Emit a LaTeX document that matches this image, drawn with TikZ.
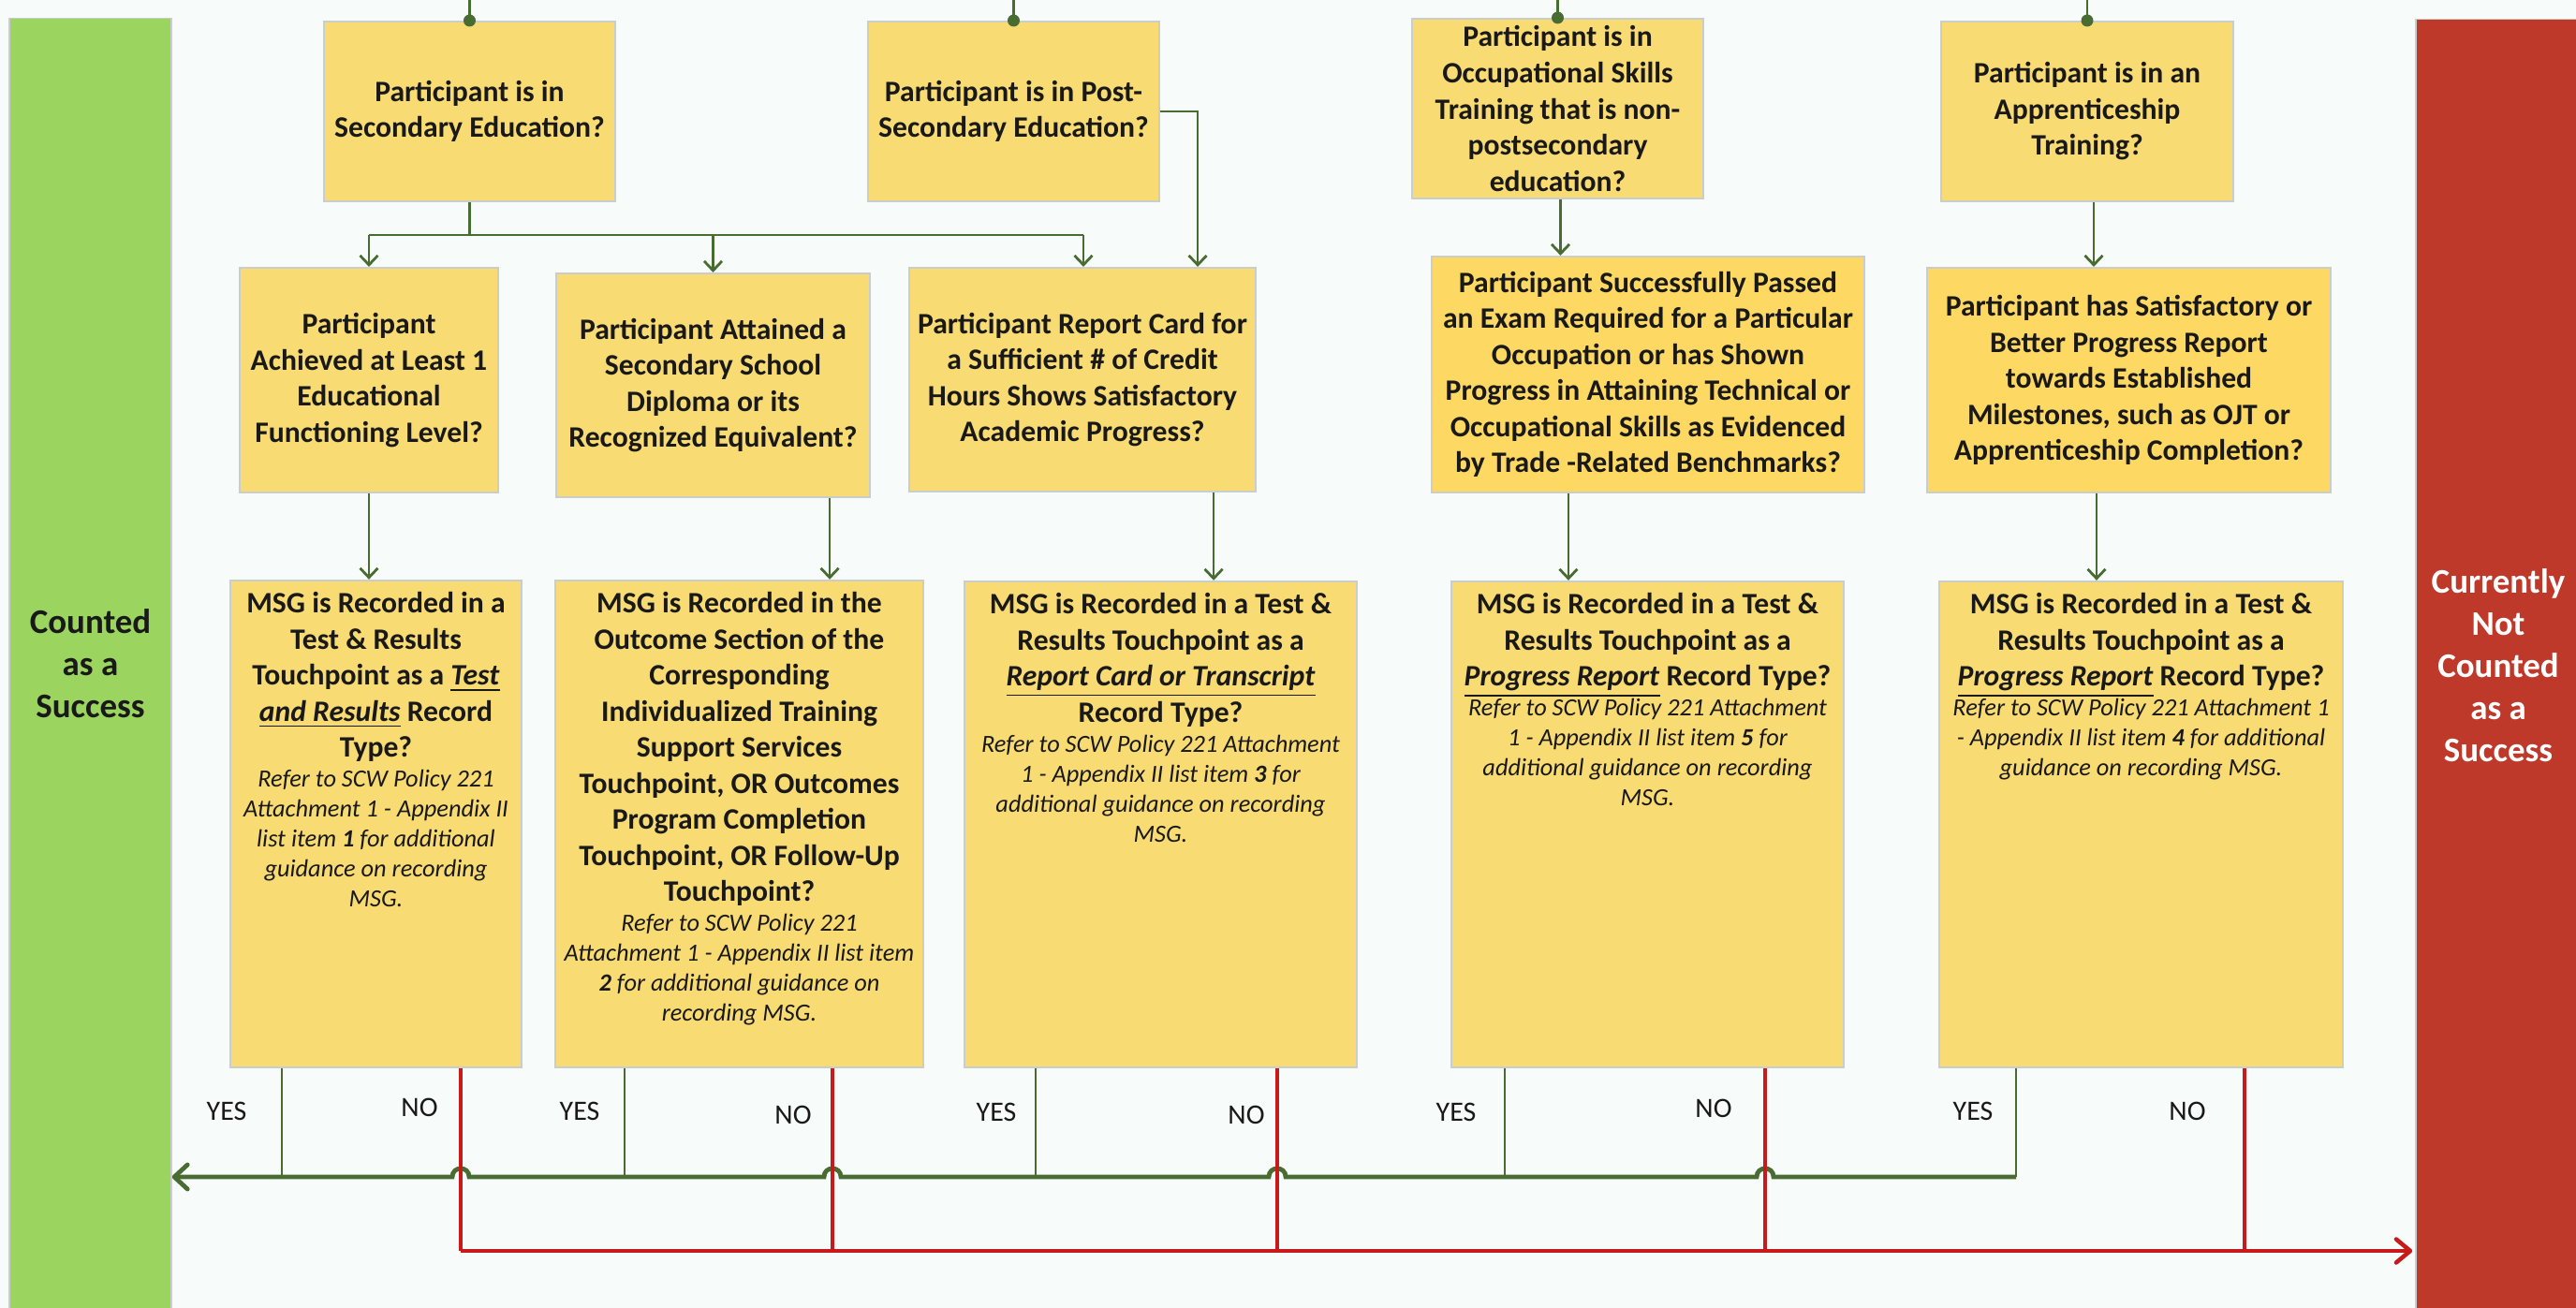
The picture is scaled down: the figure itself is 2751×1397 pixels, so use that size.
\documentclass[tikz,border=0pt]{standalone}
\usepackage{fontspec}
\setmainfont{Carlito}
\usetikzlibrary{arrows.meta}

\definecolor{pagebg}{RGB}{247,252,250}
\definecolor{qfill}{RGB}{248,219,114}
\definecolor{qfilldeep}{RGB}{253,216,98}
\definecolor{qedge}{RGB}{201,205,204}
\definecolor{okfill}{RGB}{155,212,94}
\definecolor{nofill}{RGB}{190,57,42}
\definecolor{yesline}{RGB}{73,108,50}
\definecolor{noline}{RGB}{200,26,26}
\definecolor{ink}{RGB}{25,25,25}

\newcommand{\boxqfont}{\fontsize{9}{10.95}\selectfont\bfseries}
\newcommand{\boxnotefont}{\fontsize{7.5}{9.1}\selectfont\itshape}

\begin{document}
\begin{tikzpicture}[x=0.01cm, y=-0.01cm,
  qbox/.style={draw=qedge, line width=0.02cm, fill=qfill, text=ink, font=\boxqfont, align=center, inner sep=0pt},
  mbox/.style={draw=qedge, line width=0.02cm, fill=qfill, inner sep=0pt},
  mtext/.style={text=ink, align=flush center, inner sep=0pt, anchor=north},
  sidebar/.style={draw=qedge, line width=0.015cm, font=\fontsize{10.5}{12.8}\selectfont\bfseries, align=center, inner sep=0pt},
  gconn/.style={draw=yesline, line width=0.028cm},
  garrow/.style={gconn, -{Straight Barb[length=0.1cm, width=0.19cm]}},
  rconn/.style={draw=noline, line width=0.033cm},
  gmain/.style={draw=yesline, line width=0.048cm},
  rmain/.style={draw=noline, line width=0.045cm},
  ans/.style={text=ink, font=\fontsize{8.5}{10}\selectfont, inner sep=0pt},
]
% canvas
\path[use as bounding box, fill=pagebg] (0,0) rectangle (2751,1397);

% outcome bars
\node[sidebar, fill=okfill, text=ink, minimum width=1.73cm, minimum height=13.77cm] (okbar) at (96.5,708.5) {Counted\\as a\\Success};
\begin{scope}
\clip (0,0) rectangle (2751,1397);
\node[sidebar, fill=nofill, text=white, minimum width=1.76cm, minimum height=13.80cm] (nobar) at (2668,711) {Currently\\Not\\Counted\\as a\\Success};
\end{scope}

% entry questions
\node[qbox, minimum width=3.11cm, minimum height=1.92cm] (s1) at (501.5,119) {Participant is in\\Secondary Education?};
\node[qbox, minimum width=3.11cm, minimum height=1.92cm] (s2) at (1082.5,119) {Participant is in Post-\\Secondary Education?};
\node[qbox, minimum width=3.11cm, minimum height=1.92cm] (s3) at (1663.5,116) {Participant is in\\Occupational Skills\\Training that is non-\\postsecondary\\education?};
\node[qbox, minimum width=3.12cm, minimum height=1.92cm] (s4) at (2229,119) {Participant is in an\\Apprenticeship\\Training?};

% gain questions
\node[qbox, minimum width=2.76cm, minimum height=2.40cm] (a1) at (394,406) {Participant\\Achieved at Least 1\\Educational\\Functioning Level?};
\node[qbox, minimum width=3.35cm, minimum height=2.39cm] (a2) at (761.5,411.5) {Participant Attained a\\Secondary School\\Diploma or its\\Recognized Equivalent?};
\node[qbox, minimum width=3.70cm, minimum height=2.39cm] (a3) at (1156,405.5) {Participant Report Card for\\a Sufficient \# of Credit\\Hours Shows Satisfactory\\Academic Progress?};
\node[qbox, fill=qfilldeep, minimum width=4.62cm, minimum height=2.52cm] (a4) at (1760,400) {Participant Successfully Passed\\an Exam Required for a Particular\\Occupation or has Shown\\Progress in Attaining Technical or\\Occupational Skills as Evidenced\\by Trade -Related Benchmarks?};
\node[qbox, fill=qfilldeep, minimum width=4.31cm, minimum height=2.40cm] (a5) at (2273.5,406) {Participant has Satisfactory or\\Better Progress Report\\towards Established\\Milestones, such as OJT or\\Apprenticeship Completion?};

% recording questions
\node[mbox, minimum width=3.11cm, minimum height=5.20cm] (b1) at (401.5,880) {};
\node[mbox, minimum width=3.93cm, minimum height=5.20cm] (b2) at (789.5,880) {};
\node[mbox, minimum width=4.19cm, minimum height=5.19cm] (b3) at (1239.5,880.5) {};
\node[mbox, minimum width=4.19cm, minimum height=5.19cm] (b4) at (1759.5,880.5) {};
\node[mbox, minimum width=4.31cm, minimum height=5.19cm] (b5) at (2286.5,880.5) {};

\node[mtext, text width=3.5cm] (b1t) at ([yshift=-0.13cm]b1.north) {%
{\boxqfont MSG is Recorded in a\\Test \& Results\\Touchpoint as a \underline{\textit{Test}}\\\underline{\textit{and Results}} Record\\Type?\par}%
{\boxnotefont Refer to SCW Policy 221\\Attachment 1 - Appendix II\\list item {\bfseries 1} for additional\\guidance on recording\\MSG.\par}};
\node[mtext, text width=4.4cm] (b2t) at ([yshift=-0.13cm]b2.north) {%
{\boxqfont MSG is Recorded in the\\Outcome Section of the\\Corresponding\\Individualized Training\\Support Services\\Touchpoint, OR Outcomes\\Program Completion\\Touchpoint, OR Follow-Up\\Touchpoint?\par}%
{\boxnotefont Refer to SCW Policy 221\\Attachment 1 - Appendix II list item\\{\bfseries 2} for additional guidance on\\recording MSG.\par}};
\node[mtext, text width=4.6cm] (b3t) at ([yshift=-0.13cm]b3.north) {%
{\boxqfont MSG is Recorded in a Test \&\\Results Touchpoint as a\\\underline{\textit{Report Card or Transcript}}\\Record Type?\par}%
{\boxnotefont Refer to SCW Policy 221 Attachment\\1 - Appendix II list item {\bfseries 3} for\\additional guidance on recording\\MSG.\par}};
\node[mtext, text width=4.6cm] (b4t) at ([yshift=-0.13cm]b4.north) {%
{\boxqfont MSG is Recorded in a Test \&\\Results Touchpoint as a\\\underline{\textit{Progress Report}} Record Type?\par}%
{\boxnotefont Refer to SCW Policy 221 Attachment\\1 - Appendix II list item {\bfseries 5} for\\additional guidance on recording\\MSG.\par}};
\node[mtext, text width=4.7cm] (b5t) at ([yshift=-0.13cm]b5.north) {%
{\boxqfont MSG is Recorded in a Test \&\\Results Touchpoint as a\\\underline{\textit{Progress Report}} Record Type?\par}%
{\boxnotefont Refer to SCW Policy 221 Attachment 1\\- Appendix II list item {\bfseries 4} for additional\\guidance on recording MSG.\par}};

% reference points
\coordinate (topedge) at (0,0);
\coordinate (fork) at (0,251);
\coordinate (y1) at (301,1257);
\coordinate (y2) at (667,1257);
\coordinate (y3) at (1106,1257);
\coordinate (y4) at (1607,1257);
\coordinate (y5) at (2153,1257);
\coordinate (n1) at (492,1336);
\coordinate (n2) at (889,1336);
\coordinate (n3) at (1364,1336);
\coordinate (n4) at (1885,1336);
\coordinate (n5) at (2397,1336);

% incoming flow markers
\foreach \s in {s1,s2,s3,s4}{
  \draw[gconn] (\s.north) -- (\s.north |- topedge);
  \fill[yesline] (\s.north) circle[radius=0.065cm];
}

% entry to gain questions
\draw[gconn] (s1.south) -- (s1.south |- fork);
\draw[gconn] (a1.north |- fork) -- ([xshift=0.01cm]a3.north |- fork);
\draw[garrow] (a1.north |- fork) -- (a1.north);
\draw[garrow] (a2.north |- fork) -- (a2.north);
\draw[garrow] ([xshift=0.01cm]a3.north |- fork) -- ([xshift=0.01cm]a3.north);
\draw[garrow] (s2.east) -| ([xshift=-0.63cm]a3.north east);
\draw[garrow] ([xshift=0.03cm]s3.south) -- ([xshift=0.03cm]s3.south |- a4.north);
\draw[garrow] ([xshift=0.07cm]s4.south) -- ([xshift=0.07cm]s4.south |- a5.north);

% gain to recording questions
\draw[garrow] (a1.south) -- (a1.south |- b1.north);
\draw[garrow] ([xshift=1.245cm]a2.south) -- ([xshift=1.245cm]a2.south |- b2.north);
\draw[garrow] ([xshift=1.40cm]a3.south) -- ([xshift=1.40cm]a3.south |- b3.north);
\draw[garrow] ([xshift=-0.85cm]a4.south) -- ([xshift=-0.85cm]a4.south |- b4.north);
\draw[garrow] ([xshift=-0.345cm]a5.south) -- ([xshift=-0.345cm]a5.south |- b5.north);

% YES branches
\draw[gconn] (y1 |- b1.south) -- (y1);
\draw[gconn] (y2 |- b2.south) -- (y2);
\draw[gconn] (y3 |- b3.south) -- (y3);
\draw[gconn] (y4 |- b4.south) -- (y4);
\draw[gconn] (y5 |- b5.south) -- (y5);
\draw[gmain, line join=miter, -{Straight Barb[length=0.14cm, width=0.26cm, round]}]
  (y5)
  -- ([xshift=0.09cm]n4 |- y5) .. controls +(0,-12) and +(0,-12) .. ([xshift=-0.09cm]n4 |- y5)
  -- ([xshift=0.09cm]n3 |- y5) .. controls +(0,-12) and +(0,-12) .. ([xshift=-0.09cm]n3 |- y5)
  -- ([xshift=0.09cm]n2 |- y5) .. controls +(0,-12) and +(0,-12) .. ([xshift=-0.09cm]n2 |- y5)
  -- ([xshift=0.09cm]n1 |- y5) .. controls +(0,-12) and +(0,-12) .. ([xshift=-0.09cm]n1 |- y5)
  -- (okbar.east |- y5);

% NO branches
\draw[rconn] (n1 |- b1.south) -- (n1);
\draw[rconn] (n2 |- b2.south) -- (n2);
\draw[rconn] (n3 |- b3.south) -- (n3);
\draw[rconn] (n4 |- b4.south) -- (n4);
\draw[rconn] (n5 |- b5.south) -- (n5);
\draw[rmain, -{Straight Barb[length=0.15cm, width=0.25cm, round]}] (n1) -- ([xshift=-0.03cm]nobar.west |- n1);

% branch labels
\node[ans] (yes1) at (242,1187) {YES};
\node[ans] (no1) at (448,1183) {NO};
\node[ans] (yes2) at (619,1187) {YES};
\node[ans] (no2) at (847,1191) {NO};
\node[ans] (yes3) at (1064,1188) {YES};
\node[ans] (no3) at (1331,1191) {NO};
\node[ans] (yes4) at (1555,1188) {YES};
\node[ans] (no4) at (1830,1184) {NO};
\node[ans] (yes5) at (2107,1187) {YES};
\node[ans] (no5) at (2336,1187) {NO};
\end{tikzpicture}
\end{document}
